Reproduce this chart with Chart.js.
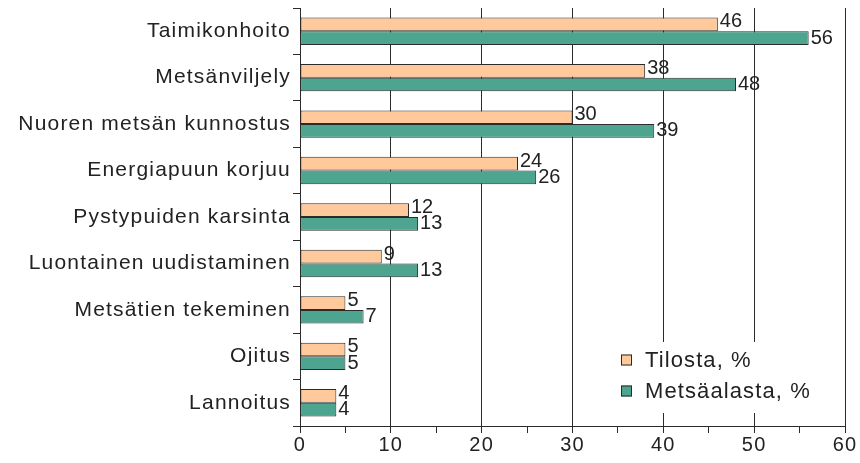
<!DOCTYPE html>
<html><head><meta charset="utf-8">
<script src="https://cdn.jsdelivr.net/npm/chart.js@4"></script>
<style>html,body{margin:0;padding:0;background:#fff}#w{width:860px;height:463px}</style>
</head><body><div id="w"><canvas id="c"></canvas></div>
<script>
const categories = ["Taimikonhoito","Metsänviljely","Nuoren metsän kunnostus","Energiapuun korjuu","Pystypuiden karsinta","Luontainen uudistaminen","Metsätien tekeminen","Ojitus","Lannoitus"];
const tilosta = [46,38,30,24,12,9,5,5,4];
const metsaalasta = [56,48,39,26,13,13,7,5,4];
const seriesNames = ["Tilosta, %","Metsäalasta, %"];
const xTicks = [0,10,20,30,40,50,60];

const FONT = "'Liberation Sans', Arial, sans-serif";
const LINE = '#2b2b2b';

const spacing = {
  id:'spacing',
  beforeDraw(chart){ chart.ctx.letterSpacing = '1.2px'; },
  beforeDatasetsDraw(chart){ chart.ctx.letterSpacing = '0px'; }
};

const valueLabels = {
  id:'valueLabels',
  afterDatasetsDraw(chart){
    const ctx = chart.ctx;
    ctx.save();
    ctx.letterSpacing = '0px';
    ctx.font = '20px ' + FONT;
    ctx.fillStyle = '#222';
    ctx.textBaseline = 'middle';
    ctx.textAlign = 'left';
    chart.data.datasets.forEach((ds, di) => {
      const meta = chart.getDatasetMeta(di);
      meta.data.forEach((el, i) => {
        ctx.fillText(String(ds.data[i]), el.x + 2, el.y + (di === 0 ? -2.5 : 0));
      });
    });
    ctx.restore();
  }
};

const innerLegend = {
  id:'innerLegend',
  afterDraw(chart){
    const ctx = chart.ctx;
    const a = chart.chartArea;
    ctx.save();
    ctx.fillStyle = '#fff';
    ctx.fillRect(a.right - 240, a.bottom - 84, 238, 71);
    ctx.font = '22px ' + FONT;
    ctx.letterSpacing = '1.1px';
    ctx.textBaseline = 'middle';
    ctx.textAlign = 'left';
    chart.data.datasets.forEach((ds, di) => {
      const y = a.bottom - 66 + di * 31;
      const x = a.right - 224;
      ctx.fillStyle = ds.backgroundColor;
      ctx.fillRect(x, y - 5.5, 11, 11);
      ctx.strokeStyle = LINE;
      ctx.lineWidth = 1;
      ctx.strokeRect(x + 0.5, y - 5, 10, 10);
      ctx.fillStyle = '#222';
      ctx.fillText(ds.label, x + 24, y + 1);
    });
    ctx.restore();
  }
};

new Chart(document.getElementById('c'), {
  type:'bar',
  data:{
    labels: categories,
    datasets:[
      {label: seriesNames[0], data: tilosta, backgroundColor:'#FFC99B', borderColor:LINE, borderWidth:1, borderSkipped:false},
      {label: seriesNames[1], data: metsaalasta, backgroundColor:'#4DA58F', borderColor:LINE, borderWidth:1, borderSkipped:false}
    ]
  },
  options:{
    indexAxis:'y',
    responsive:true,
    maintainAspectRatio:false,
    animation:false,
    layout:{padding:{left:0,right:15,top:8,bottom:0}},
    datasets:{bar:{categoryPercentage:0.59, barPercentage:1}},
    plugins:{legend:{display:false}, tooltip:{enabled:false}},
    scales:{
      x:{
        min:0, max:60,
        position:'bottom',
        afterFit(s){ s.height = 37; s.paddingLeft = 0; s.paddingRight = 0; },
        afterBuildTicks(s){ s.ticks = []; for(let v=0; v<=60; v+=5) s.ticks.push({value:v}); },
        ticks:{
          font:{size:20, family:FONT}, color:'#222', padding:0,
          maxRotation:0, autoSkip:false,
          callback(v){ return xTicks.includes(v) ? String(v) : ''; }
        },
        grid:{
          color(c){ const v = c.tick ? c.tick.value : 0; return (v % 10 === 0) ? LINE : 'rgba(0,0,0,0)'; },
          tickColor: LINE,
          tickLength:7,
          lineWidth:1
        },
        border:{display:true, color:LINE, width:1}
      },
      y:{
        afterFit(s){ s.width = 300; s.paddingTop = 0; s.paddingBottom = 0; },
        ticks:{font:{size:21, family:FONT}, color:'#222', padding:2},
        grid:{offset:true, drawOnChartArea:false, tickLength:7, color:LINE, tickColor:LINE},
        border:{display:true, color:LINE, width:1}
      }
    }
  },
  plugins:[spacing, valueLabels, innerLegend]
});
</script>
</body></html>
